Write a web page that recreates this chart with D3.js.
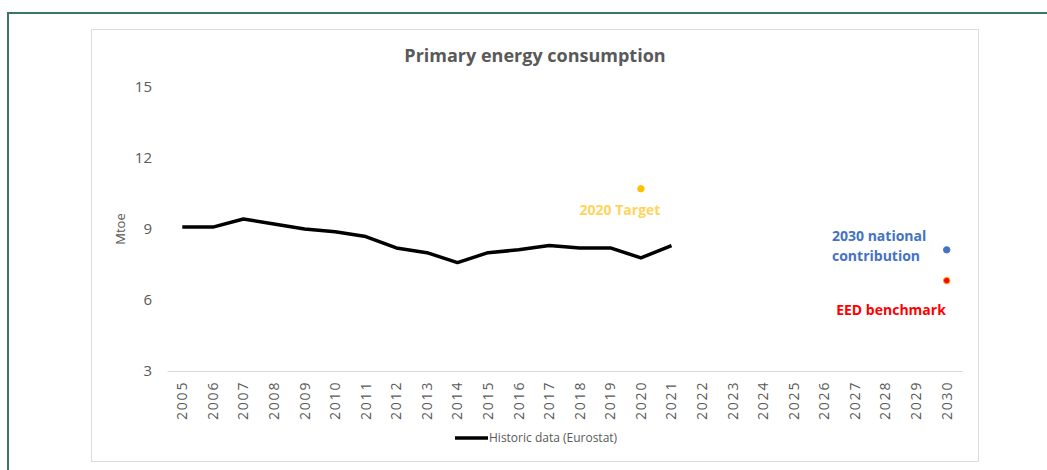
<!DOCTYPE html>
<html>
<head>
<meta charset="utf-8">
<script src="https://cdn.jsdelivr.net/npm/d3@7"></script>
<style>
  html, body { margin: 0; padding: 0; background: #fff; }
  svg { display: block; font-family: "Open Sans", "Noto Sans", sans-serif; }
</style>
</head>
<body>
<svg id="chart" width="1047" height="470"></svg>
<script>
// categories on the x axis
const years = d3.range(2005, 2031).map(String);
// historic primary energy consumption (Mtoe), 2005-2021
const histYears = ["2005","2006","2007","2008","2009","2010","2011","2012","2013","2014","2015","2016","2017","2018","2019","2020","2021"];
const histValues = [9.08, 9.08, 9.42, 9.21, 9.0, 8.88, 8.68, 8.2, 8.0, 7.58, 8.0, 8.12, 8.3, 8.2, 8.2, 7.78, 8.3];
// single points
const targets = [
  { year: "2020", value: 10.7, color: "#FFC000", stroke: "#FFC000", label: ["2020 Target"], labelColor: "#FFD45C" },
  { year: "2030", value: 8.12, color: "#4472C4", stroke: "#4472C4", label: ["2030 national", "contribution"], labelColor: "#4472C4" },
  { year: "2030", value: 6.82, color: "#FF0000", stroke: "#FFA500", label: ["EED benchmark"], labelColor: "#FF0000" }
];
const yTicks = [3, 6, 9, 12, 15];

const svg = d3.select("#chart");
const margin = { top: 87, right: 85, bottom: 99, left: 167 };
const width = 1047, height = 470;

// outer frame
svg.append("path")
  .attr("d", "M8,470 V13 H1047")
  .attr("fill", "none").attr("stroke", "#3b7565").attr("stroke-width", 2);

// chart area box
svg.append("rect")
  .attr("x", 91.5).attr("y", 29.5).attr("width", 887).attr("height", 432)
  .attr("fill", "#fff").attr("stroke", "#dcdcdc");

const x = d3.scaleBand().domain(years).range([margin.left, width - margin.right]);
const y = d3.scaleLinear().domain([3, 15]).range([height - margin.bottom, margin.top]);
const cx = d => x(d) + x.bandwidth() / 2;

// title
svg.append("text")
  .attr("x", 535).attr("y", 62)
  .attr("text-anchor", "middle")
  .attr("font-size", 18).attr("font-weight", "bold").attr("fill", "#595959")
  .text("Primary energy consumption");

// x axis
const xAxis = svg.append("g")
  .attr("transform", `translate(0,${y(3)})`)
  .call(d3.axisBottom(x).tickSize(0).tickSizeOuter(0));
xAxis.select(".domain").attr("stroke", "#d9d9d9");
xAxis.selectAll(".tick text")
  .attr("fill", "#595959").attr("font-size", 14).attr("letter-spacing", 1.8)
  .attr("transform", "rotate(-90)")
  .attr("text-anchor", "end").attr("dx", "-0.7em").attr("dy", "0.35em")
  .attr("x", 0).attr("y", 0)
  .style("font-family", "'Open Sans', sans-serif");

// y axis
const yAxis = svg.append("g")
  .attr("transform", `translate(${margin.left},0)`)
  .call(d3.axisLeft(y).tickValues(yTicks).tickSize(0).tickPadding(15));
yAxis.select(".domain").remove();
yAxis.selectAll(".tick text")
  .attr("fill", "#595959").attr("font-size", 15)
  .style("font-family", "'Open Sans', sans-serif");

svg.append("text")
  .attr("transform", `translate(125,${y(9)}) rotate(-90)`)
  .attr("text-anchor", "middle")
  .attr("font-size", 13).attr("fill", "#595959")
  .text("Mtoe");

// historic line
const line = d3.line().x((d, i) => cx(histYears[i])).y(d => y(d));
svg.append("path")
  .datum(histValues)
  .attr("d", line)
  .attr("fill", "none").attr("stroke", "#000").attr("stroke-width", 3.5)
  .attr("stroke-linejoin", "round");

// target points
svg.selectAll("circle.pt").data(targets).join("circle")
  .attr("class", "pt")
  .attr("cx", d => cx(d.year)).attr("cy", d => y(d.value))
  .attr("r", 3.2)
  .attr("fill", d => d.color).attr("stroke", d => d.stroke).attr("stroke-width", 1);

// point labels
const labelPos = [
  { x: 620, y: 215, anchor: "middle" },
  { x: 832, y: 241, anchor: "start" },
  { x: 891, y: 315, anchor: "middle" }
];
targets.forEach((d, i) => {
  const t = svg.append("text")
    .attr("x", labelPos[i].x).attr("y", labelPos[i].y)
    .attr("text-anchor", labelPos[i].anchor)
    .attr("font-size", 14).attr("font-weight", "bold").attr("fill", d.labelColor);
  d.label.forEach((s, j) => {
    t.append("tspan").attr("x", labelPos[i].x).attr("dy", j ? 20 : 0).text(s);
  });
});

// legend
const lg = svg.append("g").attr("transform", "translate(455,438)");
lg.append("line").attr("x1", 0).attr("x2", 33).attr("y1", 0).attr("y2", 0)
  .attr("stroke", "#000").attr("stroke-width", 3.5);
lg.append("text").attr("x", 34).attr("y", 4)
  .attr("font-size", 12).attr("fill", "#595959")
  .text("Historic data (Eurostat)");
</script>
</body>
</html>
